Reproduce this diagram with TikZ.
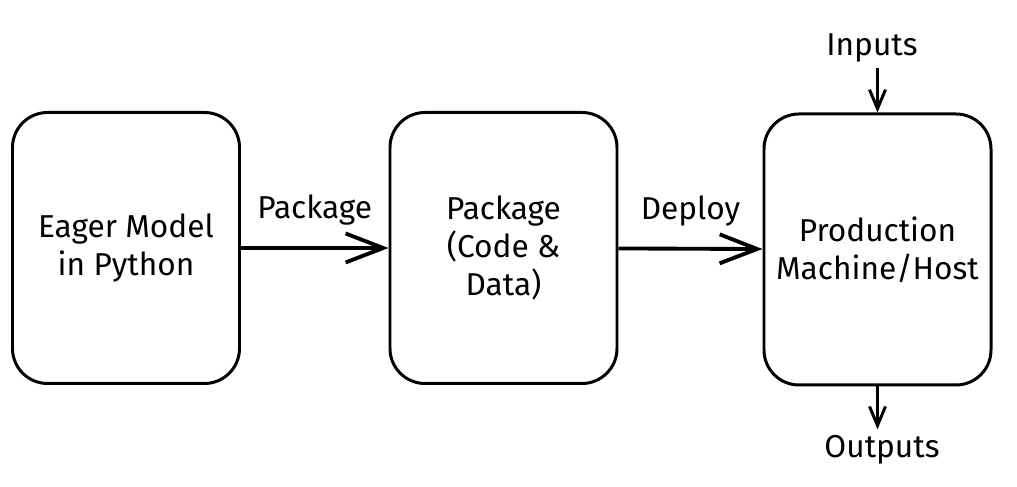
\documentclass[tikz,border=0pt]{standalone}
\usepackage{fontspec}
\setmainfont{Fira Sans}
\usepackage{tikz}
\usetikzlibrary{calc, arrows.meta}

\tikzset{
  block/.style={draw, line width=1.7pt, rounded corners=0.7cm,
    minimum width=4.54cm, minimum height=5.42cm, align=center,
    font=\fontsize{18}{21.6}\selectfont},
  label/.style={font=\fontsize{18}{21.6}\selectfont},
  flow/.style={line width=2.2pt, -{Straight Barb[length=0.75cm, width=0.58cm, line width=2.2pt]}},
  io/.style={line width=1.7pt, -{Straight Barb[length=0.38cm, width=0.32cm, line width=1.7pt]}}
}

\begin{document}
\begin{tikzpicture}
    \useasboundingbox (0,0) rectangle (20.34,9.74);

    % Define points
    \coordinate (P) at (2.52,4.78);
    \coordinate (Q) at (10.07,4.78);
    \coordinate (R) at (17.55,4.75);

    % Boxes
    \node[block] (eager) at (P) {Eager Model\\in Python};
    \node[block] (pkg) at (Q) {Package\\(Code \&\\Data)};
    \node[block] (prod) at (R) {Production\\Machine/Host};

    % Inputs and outputs
    \node[label] (inputs) at (17.44,8.78) {Inputs};
    \node[label] (outputs) at (17.64,0.74) {Outputs};

    % Draw arrows
    \draw[flow] (eager) -- node[label, above=0.3cm] (pkglbl) {Package} (pkg);
    \draw[flow] (pkg) -- node[label, above=0.3cm] (deplbl) {Deploy} (prod);
    \draw[io] (inputs.south -| prod.north) -- (prod.north);
    \draw[io] (prod.south) -- (prod.south |- outputs.north);
  \end{tikzpicture}
\end{document}
